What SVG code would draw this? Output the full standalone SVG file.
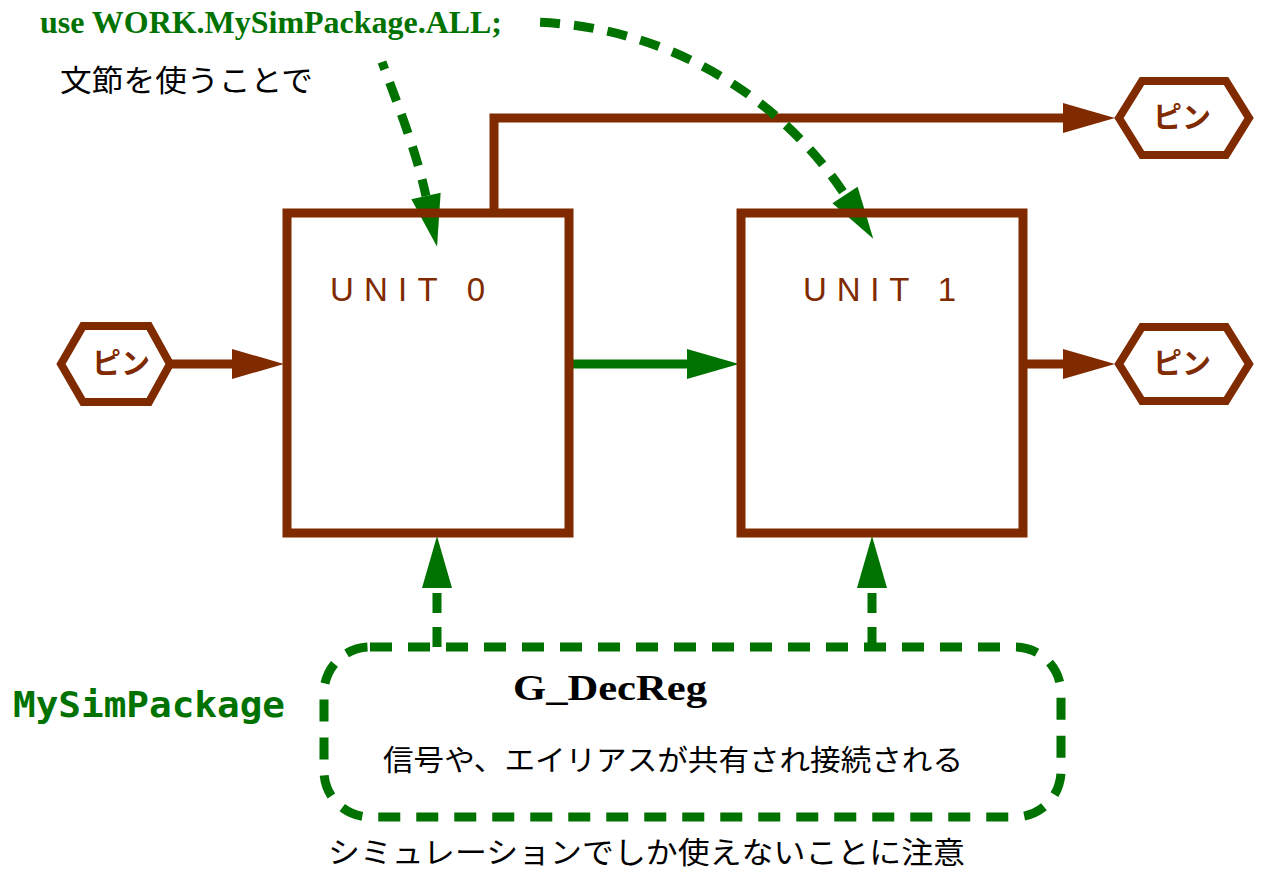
<svg xmlns="http://www.w3.org/2000/svg" width="1265" height="872" viewBox="0 0 1265 872">
<style>
.br{fill:none;stroke:#802a00;stroke-width:9;stroke-linejoin:miter}
.hex{fill:#ffffff;stroke:#802a00;stroke-width:8}
.gl{fill:none;stroke:#007200;stroke-width:9}
.gd{fill:none;stroke:#007200;stroke-width:9;stroke-dasharray:20 14}
.box{fill:none;stroke:#007200;stroke-width:9;stroke-dasharray:22 16}
.pin{font-family:"Noto Sans CJK JP","Noto Sans",sans-serif;font-size:29px;font-weight:bold;fill:#802a00;text-anchor:middle}
.unit{font-family:"Liberation Sans",Arial,sans-serif;font-size:33px;fill:#802a00}
.jp{font-family:"Noto Sans CJK JP","Noto Sans",sans-serif;fill:#000000}
</style>
<defs>
<marker id="ab" markerUnits="userSpaceOnUse" markerWidth="52" markerHeight="30" refX="0" refY="15" orient="auto" overflow="visible">
<path d="M0,0 L52,15 L0,30 z" fill="#802a00"/>
</marker>
<marker id="ag" markerUnits="userSpaceOnUse" markerWidth="52" markerHeight="30" refX="0" refY="15" orient="auto" overflow="visible">
<path d="M0,0 L52,15 L0,30 z" fill="#007200"/>
</marker>
</defs>
<rect width="1265" height="872" fill="#ffffff"/>

<g id="connectors">
<path class="br" d="M494,210 V118 H1063" marker-end="url(#ab)"/>
<path class="br" d="M172,364 H232" marker-end="url(#ab)"/>
<path class="gl" d="M570,364 H687" marker-end="url(#ag)"/>
<path class="br" d="M1024,364 H1063" marker-end="url(#ab)"/>
<path class="gd" d="M437,647 V588" marker-end="url(#ag)"/>
<path class="gd" d="M872,647 V588" marker-end="url(#ag)"/>
<path class="gd" stroke-dashoffset="12" d="M382,62 C396,100 416,150 426,196" marker-end="url(#ag)"/>
<path class="gd" stroke-dashoffset="24" d="M530,22 C680,25 790,110 845,195" marker-end="url(#ag)"/>
</g>

<g id="unit0">
<rect class="br" x="287" y="213" width="282" height="320"/>
<text class="unit" x="330" y="301" textLength="155" lengthAdjust="spacing">UNIT 0</text>
</g>
<g id="unit1">
<rect class="br" x="741" y="213" width="282" height="320"/>
<text class="unit" x="803" y="301" textLength="153" lengthAdjust="spacing">UNIT 1</text>
</g>

<g id="pin-in">
<polygon class="hex" points="61,364 83,326 149,326 170,364 149,402 83,402"/>
<text class="pin" x="121" y="374">ピン</text>
</g>
<g id="pin-out-top">
<polygon class="hex" points="1119,118 1142,81 1226,81 1249,118 1226,155 1142,155"/>
<text class="pin" x="1182" y="128">ピン</text>
</g>
<g id="pin-out-mid">
<polygon class="hex" points="1119,364 1142,327 1226,327 1249,364 1226,401 1142,401"/>
<text class="pin" x="1182" y="374">ピン</text>
</g>

<g id="use-clause">
<text x="40" y="33" font-family="'Liberation Serif','Times New Roman',serif" font-weight="bold" font-size="31" fill="#007200" textLength="462" lengthAdjust="spacingAndGlyphs">use WORK.MySimPackage.ALL;</text>
<text class="jp" x="60" y="91" font-size="30" textLength="253" lengthAdjust="spacingAndGlyphs">文節を使うことで</text>
</g>

<g id="mysimpackage">
<rect class="box" x="324" y="647" width="737" height="170" rx="46" ry="46"/>
<text x="513" y="700" font-family="'Liberation Serif','Times New Roman',serif" font-weight="bold" font-size="35" fill="#000000" textLength="194" lengthAdjust="spacingAndGlyphs">G_DecReg</text>
<text class="jp" x="383" y="771" font-size="29" textLength="580" lengthAdjust="spacingAndGlyphs">信号や、エイリアスが共有され接続される</text>
<text x="13" y="717" font-family="'DejaVu Sans Mono',monospace" font-weight="bold" font-size="35" fill="#007200" textLength="272" lengthAdjust="spacingAndGlyphs">MySimPackage</text>
</g>

<text class="jp" x="328" y="863" font-size="30" textLength="637" lengthAdjust="spacingAndGlyphs">シミュレーションでしか使えないことに注意</text>
</svg>
